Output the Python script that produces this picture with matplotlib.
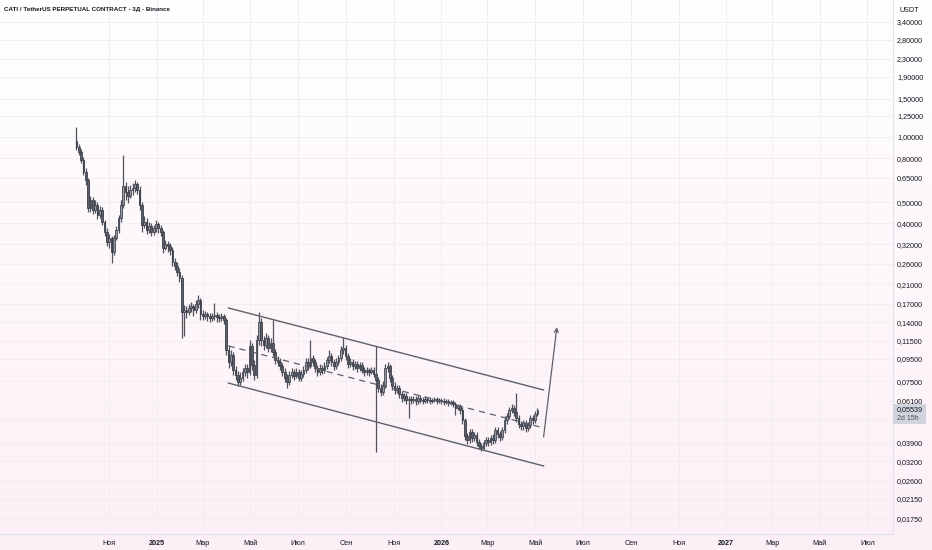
import numpy as np
import pandas as pd
import matplotlib
matplotlib.use("Agg")
import matplotlib.pyplot as plt
import matplotlib.dates as mdates

plt.rcParams['font.family'] = ['Liberation Sans', 'DejaVu Sans']

# 3-day candles, CATI/USDT perp
first_open = 0.959
closes = [
    0.899, 0.853, 0.784, 0.690, 0.634, 0.471, 0.513, 0.461, 0.486, 0.437,
    0.461, 0.406, 0.365, 0.328, 0.342, 0.295, 0.342, 0.373, 0.423, 0.486,
    0.595, 0.558, 0.535, 0.570, 0.582, 0.608, 0.570, 0.486, 0.393, 0.406,
    0.373, 0.389, 0.365, 0.381, 0.397, 0.381, 0.365, 0.308, 0.321, 0.314,
    0.301, 0.265, 0.254, 0.238, 0.224, 0.156, 0.160, 0.156, 0.163, 0.166,
    0.160, 0.170, 0.177, 0.153, 0.150, 0.153, 0.150, 0.147, 0.150, 0.151,
    0.148, 0.147, 0.150, 0.144, 0.104, 0.0918, 0.0989, 0.0844, 0.0800, 0.0743,
    0.0775, 0.0826, 0.0861, 0.0826, 0.109, 0.0889, 0.0800, 0.116, 0.141, 0.116,
    0.110, 0.118, 0.107, 0.113, 0.102, 0.0938, 0.0918, 0.0879, 0.0826, 0.0775,
    0.0743, 0.0800, 0.0826, 0.0792, 0.0826, 0.0775, 0.0809, 0.0844, 0.0918, 0.0879,
    0.0958, 0.0918, 0.0861, 0.0826, 0.0861, 0.0844, 0.0879, 0.0938, 0.0979, 0.0918,
    0.0879, 0.0918, 0.0958, 0.104, 0.107, 0.0979, 0.0898, 0.0918, 0.0879, 0.0898,
    0.0861, 0.0889, 0.0844, 0.0826, 0.0844, 0.0826, 0.0844, 0.0809, 0.0759, 0.0697,
    0.0668, 0.0720, 0.0861, 0.0879, 0.0775, 0.0712, 0.0683, 0.0697, 0.0654, 0.0627,
    0.0641, 0.0614, 0.0621, 0.0614, 0.0621, 0.0608, 0.0627, 0.0614, 0.0608, 0.0621,
    0.0614, 0.0608, 0.0614, 0.0621, 0.0608, 0.0614, 0.0608, 0.0601, 0.0608, 0.0595,
    0.0601, 0.0589, 0.0564, 0.0576, 0.0552, 0.0497, 0.0420, 0.0402, 0.0438, 0.0411,
    0.0424, 0.0394, 0.0377, 0.0369, 0.0390, 0.0402, 0.0394, 0.0411, 0.0402, 0.0447,
    0.0429, 0.0415, 0.0447, 0.0497, 0.0518, 0.0552, 0.0564, 0.0541, 0.0507, 0.0476,
    0.0466, 0.0481, 0.0457, 0.0471, 0.0507, 0.0497, 0.0529, 0.05539,
]
highs = [
    1.112, 0.929, 0.881, 0.809, 0.720, 0.647, 0.535, 0.530, 0.513, 0.502,
    0.481, 0.476, 0.415, 0.381, 0.357, 0.350, 0.353, 0.389, 0.437, 0.513,
    0.826, 0.620, 0.595, 0.601, 0.614, 0.634, 0.620, 0.595, 0.502, 0.433,
    0.423, 0.406, 0.402, 0.393, 0.415, 0.406, 0.393, 0.373, 0.335, 0.331,
    0.324, 0.311, 0.277, 0.265, 0.249, 0.231, 0.168, 0.166, 0.170, 0.173,
    0.170, 0.177, 0.187, 0.181, 0.160, 0.158, 0.156, 0.155, 0.155, 0.171,
    0.156, 0.153, 0.155, 0.153, 0.147, 0.110, 0.104, 0.102, 0.0879, 0.0835,
    0.0826, 0.0861, 0.0898, 0.0898, 0.116, 0.112, 0.0938, 0.122, 0.156, 0.147,
    0.121, 0.125, 0.122, 0.118, 0.144, 0.106, 0.0979, 0.0958, 0.0908, 0.0861,
    0.0809, 0.0835, 0.0861, 0.0852, 0.0861, 0.0852, 0.0844, 0.0879, 0.0958, 0.0958,
    0.116, 0.0989, 0.0948, 0.0889, 0.0898, 0.0889, 0.0918, 0.0968, 0.104, 0.101,
    0.0948, 0.0958, 0.0989, 0.109, 0.120, 0.110, 0.101, 0.0958, 0.0948, 0.0928,
    0.0928, 0.0918, 0.0918, 0.0870, 0.0870, 0.0861, 0.0870, 0.0870, 0.109, 0.0783,
    0.0727, 0.0751, 0.0898, 0.0918, 0.0898, 0.0800, 0.0743, 0.0720, 0.0720, 0.0676,
    0.0661, 0.0661, 0.0641, 0.0641, 0.0641, 0.0641, 0.0648, 0.0648, 0.0634, 0.0641,
    0.0634, 0.0634, 0.0627, 0.0634, 0.0634, 0.0627, 0.0627, 0.0627, 0.0621, 0.0621,
    0.0614, 0.0614, 0.0601, 0.0589, 0.0589, 0.0570, 0.0507, 0.0433, 0.0452, 0.0452,
    0.0438, 0.0438, 0.0406, 0.0390, 0.0402, 0.0415, 0.0415, 0.0424, 0.0429, 0.0461,
    0.0461, 0.0442, 0.0461, 0.0518, 0.0535, 0.0570, 0.0589, 0.0582, 0.0661, 0.0524,
    0.0491, 0.0497, 0.0497, 0.0486, 0.0524, 0.0524, 0.0546, 0.0564,
]
lows = [
    0.871, 0.826, 0.759, 0.668, 0.601, 0.451, 0.451, 0.442, 0.447, 0.419,
    0.423, 0.393, 0.350, 0.314, 0.308, 0.263, 0.286, 0.335, 0.361, 0.406,
    0.471, 0.513, 0.497, 0.524, 0.541, 0.558, 0.546, 0.461, 0.365, 0.381,
    0.357, 0.361, 0.350, 0.353, 0.365, 0.361, 0.350, 0.292, 0.301, 0.295,
    0.286, 0.254, 0.244, 0.228, 0.215, 0.118, 0.121, 0.147, 0.151, 0.156,
    0.150, 0.155, 0.163, 0.144, 0.144, 0.145, 0.142, 0.141, 0.142, 0.144,
    0.141, 0.141, 0.142, 0.138, 0.0989, 0.0861, 0.0879, 0.0800, 0.0759, 0.0712,
    0.0720, 0.0751, 0.0792, 0.0775, 0.0800, 0.0844, 0.0759, 0.0775, 0.110, 0.109,
    0.104, 0.107, 0.102, 0.102, 0.0979, 0.0898, 0.0879, 0.0844, 0.0792, 0.0743,
    0.0697, 0.0720, 0.0775, 0.0759, 0.0775, 0.0751, 0.0751, 0.0783, 0.0817, 0.0844,
    0.0861, 0.0879, 0.0826, 0.0792, 0.0800, 0.0809, 0.0817, 0.0852, 0.0908, 0.0879,
    0.0844, 0.0852, 0.0889, 0.0928, 0.100, 0.0938, 0.0861, 0.0870, 0.0844, 0.0852,
    0.0826, 0.0835, 0.0817, 0.0792, 0.0800, 0.0792, 0.0809, 0.0783, 0.0354, 0.0668,
    0.0641, 0.0648, 0.0697, 0.0826, 0.0743, 0.0683, 0.0654, 0.0661, 0.0627, 0.0601,
    0.0608, 0.0589, 0.0507, 0.0589, 0.0595, 0.0582, 0.0589, 0.0595, 0.0589, 0.0595,
    0.0595, 0.0589, 0.0595, 0.0601, 0.0589, 0.0595, 0.0589, 0.0582, 0.0589, 0.0576,
    0.0582, 0.0570, 0.0524, 0.0552, 0.0529, 0.0476, 0.0402, 0.0385, 0.0390, 0.0394,
    0.0398, 0.0377, 0.0365, 0.0358, 0.0361, 0.0377, 0.0377, 0.0381, 0.0385, 0.0390,
    0.0411, 0.0398, 0.0402, 0.0433, 0.0476, 0.0502, 0.0535, 0.0518, 0.0486, 0.0457,
    0.0447, 0.0447, 0.0438, 0.0442, 0.0457, 0.0476, 0.0481, 0.0518,
]

# drawings: channel + arrow
channel_dates = ['2025-04-03', '2026-05-12']
upper_line = [0.163, 0.0683]
mid_line = [0.109, 0.0457]
lower_line = [0.0735, 0.0305]
arrow_dates = ['2026-05-12', '2026-05-29']
arrow_prices = [0.0415, 0.133]

price_ticks = [3.4, 2.8, 2.3, 1.9, 1.5, 1.25, 1.0, 0.8, 0.65, 0.5, 0.4, 0.32,
               0.26, 0.21, 0.17, 0.14, 0.115, 0.095, 0.075, 0.061, 0.05,
               0.039, 0.032, 0.026, 0.0215, 0.0175]
month_names = {1: '', 3: 'Мар', 5: 'Май', 7: 'Июл', 9: 'Сен', 11: 'Ноя'}
last_price = 0.05539
countdown = '2d 15h'

dates = pd.date_range('2024-09-20', periods=len(closes), freq='3D')
xd = mdates.date2num(dates)
opens = [first_open] + closes[:-1]

W, H = 932, 550
fig = plt.figure(figsize=(W / 100, H / 100), dpi=100)

# background gradient white -> pale pink
bg = fig.add_axes([0, 0, 1, 1])
grad = np.linspace(0, 1, 256).reshape(-1, 1)
top_c = np.array([1.0, 1.0, 1.0])
bot_c = np.array([0xfc, 0xf0, 0xf6]) / 255
img = top_c + (bot_c - top_c) * grad
bg.imshow(img[:, None, :].repeat(2, axis=1), aspect='auto', extent=[0, 1, 0, 1])
bg.set_axis_off()

ax = fig.add_axes([0, 16 / H, 893 / W, 534 / H])
ax.set_facecolor('none')
ax.set_yscale('log')
ax.set_ylim(0.01482, 4.28)
ax.set_xlim(mdates.datestr2num('2024-06-14'), mdates.datestr2num('2027-08-03'))

# candles
o = np.array(opens)
c = np.array(closes)
up = c >= o
bottom = np.minimum(o, c)
height = np.abs(c - o)
height = np.maximum(height, bottom * 0.004)
ax.vlines(xd, lows, highs, color='#50535e', lw=0.9, zorder=3)
ax.bar(xd[up], height[up], bottom=bottom[up], width=2.2, color='#979aa3',
       edgecolor='#434651', linewidth=0.6, zorder=4)
ax.bar(xd[~up], height[~up], bottom=bottom[~up], width=2.2, color='#5d606b',
       edgecolor='#3b3e48', linewidth=0.6, zorder=4)

cd = mdates.datestr2num(channel_dates)
ax.plot(cd, upper_line, color='#5d606b', lw=1.0, zorder=5)
ax.plot(cd, lower_line, color='#5d606b', lw=1.0, zorder=5)
ax.plot(cd, mid_line, color='#5d606b', lw=0.9, ls=(0, (5, 4)), zorder=5)
ad = mdates.datestr2num(arrow_dates)
ax.annotate('', xy=(ad[1], arrow_prices[1]), xytext=(ad[0], arrow_prices[0]),
            arrowprops=dict(arrowstyle='->', color='#5d606b', lw=0.9,
                            shrinkA=0, shrinkB=0, mutation_scale=7), zorder=5)

# y axis (0,05000 sits behind the last-price label)
ax.yaxis.tick_right()
ax.set_yticks(price_ticks)
ax.set_yticklabels(['' if v == 0.05 else f"{v:.5f}".replace('.', ',')
                    for v in price_ticks])
ax.yaxis.set_minor_locator(matplotlib.ticker.NullLocator())
ax.tick_params(axis='y', length=0, pad=3, labelsize=5.2, labelcolor='#131722')

# x axis
xt, xl = [], []
for d in pd.date_range('2024-11-01', '2027-07-01', freq='2MS'):
    xt.append(mdates.date2num(d))
    xl.append(str(d.year) if d.month == 1 else month_names[d.month])
ax.set_xticks(xt)
ax.set_xticklabels(xl)
ax.tick_params(axis='x', length=0, pad=4, labelsize=5.2, labelcolor='#131722')
for lbl in ax.get_xticklabels():
    if lbl.get_text().isdigit():
        lbl.set_fontweight('bold')

ax.grid(True, color='#efecf0', lw=0.6, zorder=0)
for s in ['top', 'left']:
    ax.spines[s].set_visible(False)
for s in ['right', 'bottom']:
    ax.spines[s].set_color('#e0e3eb')
    ax.spines[s].set_linewidth(0.8)

fig.text(4 / W, 1 - 10 / H, 'CATI / TetherUS PERPETUAL CONTRACT - 3Д - Binance',
         fontsize=4.5, fontweight='bold', color='#131722', va='center', ha='left')
fig.text(899 / W, 1 - 10 / H, 'USDT', fontsize=5.2, color='#131722',
         va='center', ha='left')

# last price label
ly = ax.transData.transform((xt[0], last_price))[1]
fig.patches.append(plt.Rectangle((893 / W, (ly - 14) / H), 33 / W, 20 / H,
                                 transform=fig.transFigure, facecolor='#d1d4dc',
                                 edgecolor='none', zorder=10))
fig.text(897 / W, ly / H, f"{last_price:.5f}".replace('.', ','), fontsize=5.2,
         color='#131722', va='center', ha='left', zorder=11)
fig.text(897 / W, (ly - 8.5) / H, countdown, fontsize=5.0, color='#4a4d57',
         va='center', ha='left', zorder=11)

fig.savefig('out.png', dpi=100)
